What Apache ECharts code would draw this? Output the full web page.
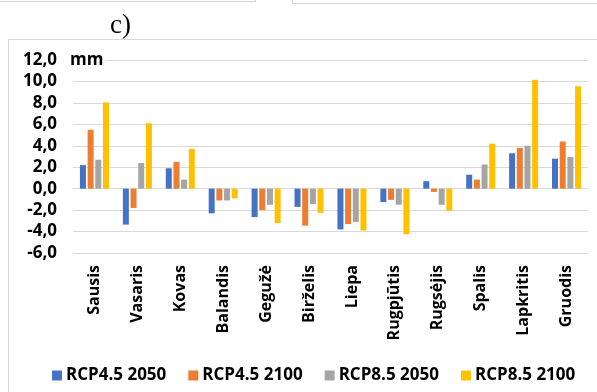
<!DOCTYPE html>
<html>
<head>
<meta charset="utf-8">
<script src="https://cdn.jsdelivr.net/npm/echarts@6/dist/echarts.min.js"></script>
<style>
  html, body { margin: 0; padding: 0; background: #fff; }
  #chart { width: 597px; height: 392px; }
</style>
</head>
<body>
<div id="chart"></div>
<script>
// Monthly precipitation change (mm) under two RCP scenarios
const months = ['Sausis', 'Vasaris', 'Kovas', 'Balandis', 'Gegužė', 'Birželis',
  'Liepa', 'Rugpjūtis', 'Rugsėjis', 'Spalis', 'Lapkritis', 'Gruodis'];

const seriesNames = ['RCP4.5 2050', 'RCP4.5 2100', 'RCP8.5 2050', 'RCP8.5 2100'];

const rcp45_2050 = [2.2, -3.35, 1.9, -2.3, -2.65, -1.7, -3.8, -1.25, 0.7, 1.3, 3.3, 2.8];
const rcp45_2100 = [5.5, -1.8, 2.5, -1.1, -2.0, -3.45, -3.3, -1.05, -0.3, 0.85, 3.8, 4.4];
const rcp85_2050 = [2.7, 2.4, 0.85, -1.1, -1.5, -1.45, -3.1, -1.5, -1.5, 2.25, 4.0, 2.95];
const rcp85_2100 = [8.05, 6.1, 3.7, -0.9, -3.2, -2.25, -3.9, -4.25, -2.05, 4.2, 10.15, 9.55];

const yMin = -6, yMax = 12, yStep = 2;
const colors = ['#4472C4', '#ED7D31', '#A5A5A5', '#FFC000'];

const allValues = [rcp45_2050, rcp45_2100, rcp85_2050, rcp85_2100];
const FONT = '"Open Sans", "Liberation Sans", sans-serif';

const chart = echarts.init(document.getElementById('chart'), null, { renderer: 'canvas' });

chart.setOption({
  animation: false,
  backgroundColor: '#fff',
  textStyle: { fontFamily: FONT },
  color: colors,
  grid: { left: 73, right: 9, top: 60, bottom: 139, containLabel: false },
  legend: {
    left: 47,
    top: 362,
    itemWidth: 10,
    itemHeight: 10,
    itemGap: 22,
    icon: 'rect',
    textStyle: { fontFamily: FONT, fontSize: 17, fontWeight: 'bold', color: '#000', padding: [0, 0, 0, -1] },
    data: seriesNames
  },
  xAxis: {
    type: 'category',
    data: months,
    axisLine: { show: true, onZero: true, lineStyle: { color: '#d9d9d9', width: 1 } },
    axisTick: { show: false },
    axisLabel: {
      rotate: 90,
      interval: 0,
      margin: 12,
      fontFamily: FONT,
      fontSize: 16,
      fontWeight: 'bold',
      color: '#000'
    }
  },
  yAxis: {
    type: 'value',
    min: yMin,
    max: yMax,
    interval: yStep,
    axisLine: { show: false },
    axisTick: { show: false },
    splitLine: { lineStyle: { color: '#d9d9d9', width: 1 } },
    axisLabel: {
      margin: 16,
      fontFamily: FONT,
      fontSize: 17,
      fontWeight: 'bold',
      color: '#000',
      formatter: v => v.toFixed(1).replace('.', ',')
    }
  },
  graphic: [
    // surrounding frames
    { type: 'polyline', shape: { points: [[0, 1.5], [255.5, 1.5], [255.5, 0]] }, style: { stroke: '#d4d4d4', fill: null, lineWidth: 1 } },
    { type: 'polyline', shape: { points: [[292.5, 0], [292.5, 3.5], [600, 3.5]] }, style: { stroke: '#d4d4d4', fill: null, lineWidth: 1 } },
    { type: 'rect', shape: { x: 8.5, y: 39.5, width: 620, height: 400 }, style: { stroke: '#d9d9d9', fill: null, lineWidth: 1 } },
    // panel letter
    { type: 'text', left: 110, top: 12, style: { text: 'c)', font: '27px "Liberation Serif", "DejaVu Serif", serif', fill: '#000' } },
    // unit label, masking the start of the top gridline
    { type: 'text', x: 68, y: 60, z: 10, style: { text: 'mm', font: 'bold 17px ' + FONT, fill: '#000', verticalAlign: 'middle', backgroundColor: '#fff', padding: [2, 2, 2, 2] } }
  ],
  series: seriesNames.map((name, i) => ({
    name: name,
    type: 'bar',
    data: allValues[i],
    barWidth: 6,
    barGap: '28%',
    itemStyle: { color: colors[i] }
  }))
});
</script>
</body>
</html>
